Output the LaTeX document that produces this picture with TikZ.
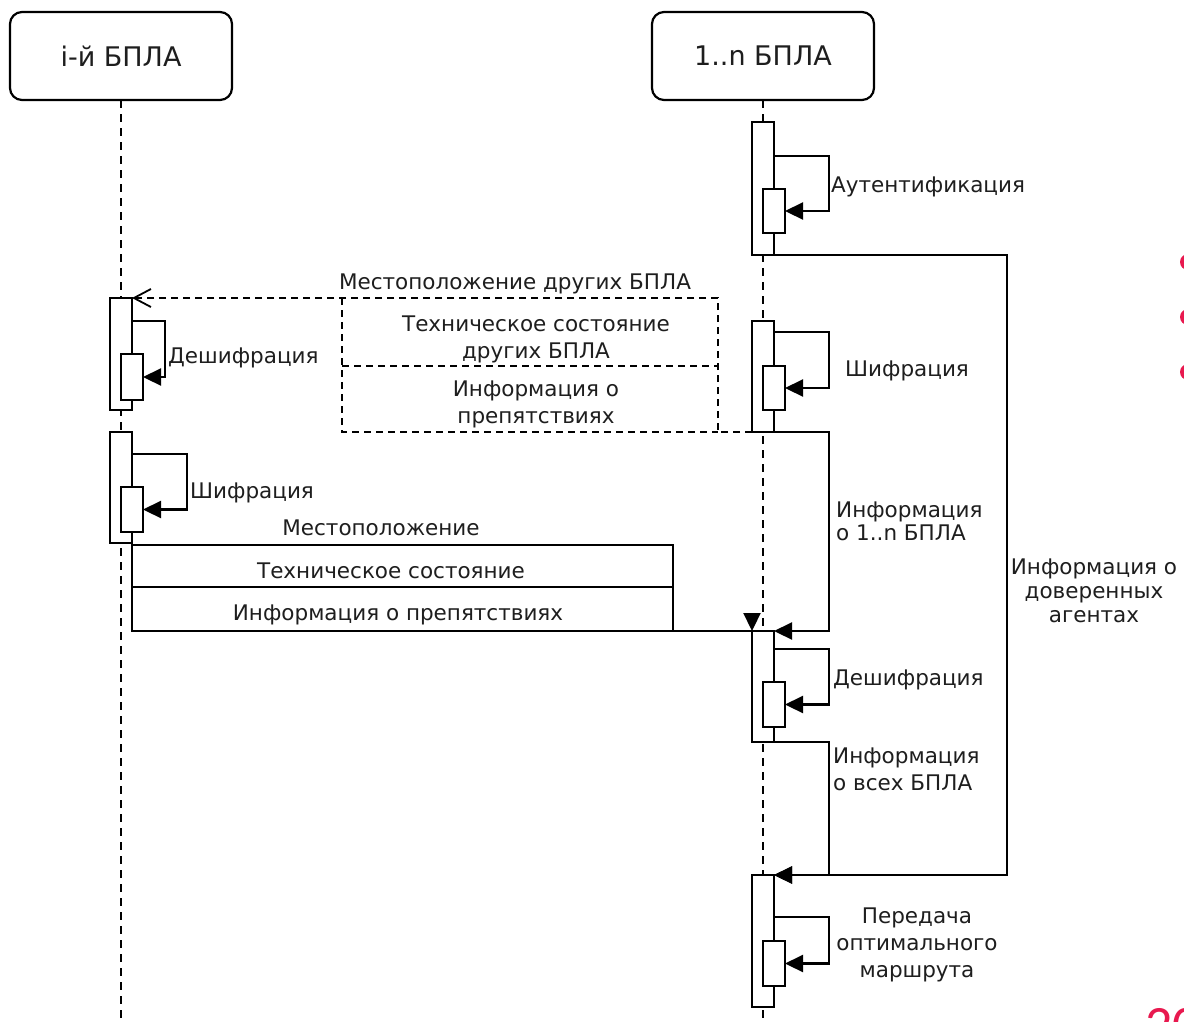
\documentclass[tikz,border=0pt]{standalone}
\usepackage{fontspec}
\setmainfont{DejaVu Sans}
\newfontfamily\slidefont{Carlito}
\usetikzlibrary{arrows.meta,calc}
\definecolor{txt}{HTML}{1E1E1E}
\definecolor{accent}{HTML}{E8194F}
\begin{document}
\begin{tikzpicture}[x=1pt,y=-1pt,
  every node/.style={font=\fontsize{21.5}{27}\selectfont, text=txt},
  ln/.style={line width=2.2pt},
  act/.style={draw, line width=2.2pt, fill=white, minimum width=22pt, inner sep=0pt, outer sep=0pt, anchor=north west},
  head/.style={draw, line width=2.2pt, rounded corners=12pt, minimum width=222pt, minimum height=88pt, fill=white, outer sep=0pt, font=\fontsize{27}{30}\selectfont},
  life/.style={line width=2pt, dash pattern=on 8pt off 6pt},
  msg/.style={line width=2.2pt, -{Triangle[length=18pt,width=17pt]}},
  dmsg/.style={line width=1.9pt, dash pattern=on 7pt off 5pt},
  lbl/.style={align=left, anchor=west, inner sep=0pt},
  clbl/.style={align=center, inner sep=0pt},
]
\useasboundingbox (0,0) rectangle (1184,1021);
\clip (0,0) rectangle (1184,1021);
\fill[white] (0,0) rectangle (1184,1021);

% headers and lifelines
\node[head] (hL) at (121,56) {i-й БПЛА};
\node[head] (hR) at (763,56) {1..n БПЛА};
\coordinate (eL) at (121,1030);
\coordinate (eR) at (763,1030);
\draw[life] (hL.south) -- (eL);
\draw[life] (hR.south) -- (eR);

% activations right
\node[act, minimum height=133pt] (A1) at (752,122) {};
\node[act, minimum height=44pt] (A1i) at (763,189) {};
\node[act, minimum height=111pt] (A2) at (752,321) {};
\node[act, minimum height=44pt] (A2i) at (763,366) {};
\node[act, minimum height=111pt] (A3) at (752,631) {};
\node[act, minimum height=45pt] (A3i) at (763,682) {};
\node[act, minimum height=132pt] (A4) at (752,875) {};
\node[act, minimum height=45pt] (A4i) at (763,941) {};
% activations left
\node[act, minimum height=112pt] (L1) at (110,298) {};
\node[act, minimum height=46pt] (L1i) at (121,354) {};
\node[act, minimum height=111pt] (L2) at (110,432) {};
\node[act, minimum height=45pt] (L2i) at (121,487) {};

% self loops
\draw[msg] ($(A1.north east)+(0,34)$) -- ++(55,0) |- (A1i.east);
\draw[msg] ($(A2.north east)+(0,11)$) -- ++(55,0) |- (A2i.east);
\draw[msg] ($(A3.north east)+(0,18)$) -- ++(55,0) |- (A3i.east);
\draw[msg] ($(A4.north east)+(0,42)$) -- ++(55,0) |- (A4i.east);
\draw[msg] ($(L1.north east)+(0,23)$) -- ++(33,0) |- (L1i.east);
\draw[msg] ($(L2.north east)+(0,22)$) -- ++(55,0) |- (L2i.east);

\node[lbl] (t1) at (831,187) {Аутентификация};
\node[lbl] (t2) at (845,371) {Шифрация};
\node[lbl] (t3) at (833,680) {Дешифрация};
\node[clbl] (t4) at (917,945) {Передача\\оптимального\\маршрута};
\node[lbl] (t5) at (168,358) {Дешифрация};
\node[lbl] (t6) at (190,493) {Шифрация};

% messages on the right
\draw[msg] (A1.south east) -- ++(233,0) |- (A4.north east);
\node[clbl, font=\fontsize{21.5}{24}\selectfont] (t7) at (1094,591) {Информация о\\доверенных\\агентах};
\draw[msg] (A2.south east) -- ++(55,0) |- (A3.north east);
\node[lbl, font=\fontsize{21.5}{23}\selectfont] (t8) at (836,521) {Информация\\о 1..n БПЛА};
\draw[msg] (A3.south east) -- ++(55,0) |- (A4.north east);
\node[lbl] (t9) at (833,769) {Информация\\о всех БПЛА};

% dashed message A2 -> L1
\coordinate (d1) at (718,432);
\draw[dmsg, -{Straight Barb[length=17pt,width=18pt,line width=1.8pt]}] (A2.south west) -- ++(-34,0) |- (L1.north east);
\coordinate (f1) at (342,298);
\coordinate (f2) at (342,432);
\coordinate (f3) at (342,366);
\coordinate (f4) at (718,366);
\draw[dmsg] (f1) -- (f2) -- (d1);
\draw[dmsg] (f3) -- (f4);
\node[clbl] (t10) at (515,284) {Местоположение других БПЛА};
\node[clbl] (t11) at (536,339) {Техническое состояние\\других БПЛА};
\node[clbl] (t12) at (536,404) {Информация о\\препятствиях};

% solid message L2 -> A3
\coordinate (s2) at (673,545);
\coordinate (s3) at (673,631);
\coordinate (s4) at (132,587);
\coordinate (s5) at (673,587);
\coordinate (s6) at (132,545);
\draw[ln] (L2.south east) -- (L2.south east |- A3.north west) -- (A3.north west);
\draw[ln] (s6) -- (s2) -- (s3);
\draw[ln] (s4) -- (s5);
\draw[msg] ($(A3.north west)+(0,-18)$) -- (A3.north west);
\node[clbl] (t13) at (381,528) {Местоположение};
\node[clbl] (t14) at (391,571) {Техническое состояние};
\node[clbl] (t15) at (398,615) {Информация о препятствиях};

% slide remnants (clipped)
\fill[accent] (1188,262) circle (8pt);
\fill[accent] (1188,317) circle (8pt);
\fill[accent] (1188,372) circle (8pt);
\node[anchor=base west, inner sep=0pt, text=accent, font=\slidefont\fontsize{54}{54}\selectfont] (pg) at (1145,1043) {20};
\end{tikzpicture}
\end{document}
